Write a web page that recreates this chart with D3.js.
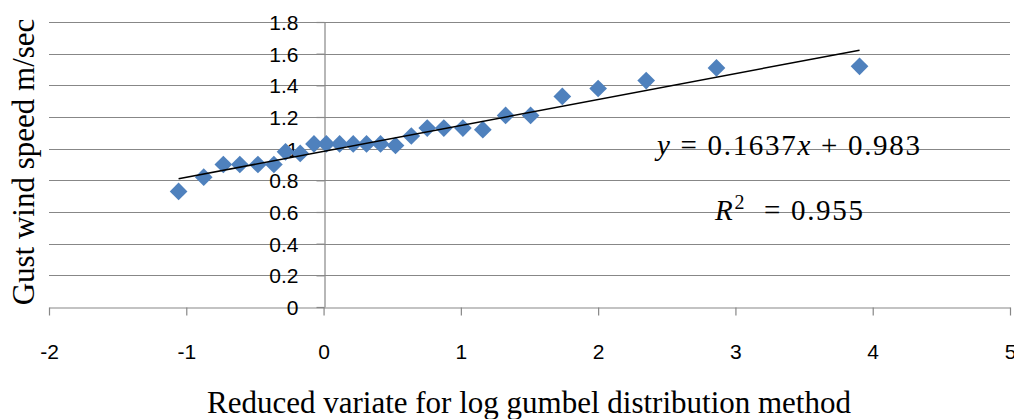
<!DOCTYPE html>
<html>
<head>
<meta charset="utf-8">
<script src="https://cdn.jsdelivr.net/npm/d3@7"></script>
<style>
  body { margin: 0; background: #fff; }
  .axis-title { font-family: "Liberation Serif", "Times New Roman", serif; font-size: 31px; fill: #000; }
  .eq { font-family: "Liberation Serif", "Times New Roman", serif; font-size: 29px; fill: #000; white-space: pre; }
</style>
</head>
<body>
<div id="chart"></div>
<script>
/** data */
let reducedVariate = [-1.056, -0.873, -0.73, -0.61, -0.478, -0.362, -0.277, -0.17,
  -0.07, 0.02, 0.117, 0.216, 0.313, 0.415, 0.524, 0.639, 0.755, 0.876, 1.015,
  1.16, 1.326, 1.508, 1.739, 2.0, 2.35, 2.862, 3.904];
let gustSpeed = [0.73, 0.82, 0.9, 0.9, 0.9, 0.9, 0.98, 0.97,
  1.03, 1.03, 1.03, 1.03, 1.03, 1.03, 1.02, 1.08, 1.13, 1.13, 1.13,
  1.12, 1.21, 1.21, 1.33, 1.38, 1.43, 1.51, 1.52];
let xTicks = [-2, -1, 0, 1, 2, 3, 4, 5];
let yTicks = [0, 0.2, 0.4, 0.6, 0.8, 1, 1.2, 1.4, 1.6, 1.8];
let slope = 0.1637;
let intercept = 0.983;
let rSquared = 0.955;

/** set up the svg */
let width = 1014;
let height = 419;
let svg = d3.select('#chart')
  .append('svg')
  .attr('width', width)
  .attr('height', height);

let x = d3.scaleLinear().domain([-2, 5]).range([49, 1010]);
let y = d3.scaleLinear().domain([0, 1.8]).range([307, 22]);
let gridColor = '#878787';
let tickFont = '"Liberation Sans", Arial, sans-serif';

/** horizontal gridlines */
svg.append('g')
  .selectAll('line')
  .data(yTicks.filter(d => d > 0))
  .enter()
  .append('line')
  .attr('x1', x(-2))
  .attr('x2', x(5))
  .attr('y1', d => Math.round(y(d)) + 0.5)
  .attr('y2', d => Math.round(y(d)) + 0.5)
  .attr('stroke', gridColor)
  .attr('stroke-width', 1.2);

/** x axis at y = 0, ticks pointing down (plain hyphen for negatives, like Excel) */
let xAxis = svg.append('g')
  .attr('transform', `translate(0,${Math.round(y(0)) + 0.5})`)
  .call(d3.axisBottom(x).tickValues(xTicks).tickSize(8).tickSizeOuter(0).tickFormat(d => String(d)));
xAxis.select('.domain').attr('stroke', gridColor).attr('stroke-width', 1.2);
xAxis.selectAll('.tick line').attr('stroke', gridColor).attr('stroke-width', 1.2);
xAxis.selectAll('.tick text')
  .attr('y', 0)
  .attr('dy', null)
  .attr('transform', 'translate(0,51)')
  .style('font-family', tickFont)
  .style('font-size', '21px')
  .style('fill', '#000');

/** y axis at x = 0, labels to the left */
let yAxis = svg.append('g')
  .attr('transform', `translate(${Math.round(x(0)) + 0.5},0)`)
  .call(d3.axisLeft(y).tickValues(yTicks).tickSize(8).tickSizeOuter(0).tickPadding(18).tickFormat(d => String(+d.toFixed(1))));
yAxis.select('.domain').attr('stroke', gridColor).attr('stroke-width', 1.2);
yAxis.selectAll('.tick line').attr('stroke', gridColor).attr('stroke-width', 1.2);
yAxis.selectAll('.tick text')
  .attr('dy', '0.35em')
  .style('font-family', tickFont)
  .style('font-size', '21px')
  .style('fill', '#000');

/** diamond markers */
let diamond = d3.symbol().type(d3.symbolDiamond2).size(200);
svg.append('g')
  .selectAll('path')
  .data(reducedVariate.map((v, i) => [v, gustSpeed[i]]))
  .enter()
  .append('path')
  .attr('d', diamond)
  .attr('transform', d => `translate(${x(d[0])},${y(d[1])})`)
  .attr('fill', '#4F81BD');

/** linear trendline over the data range */
let xExtent = d3.extent(reducedVariate);
svg.append('path')
  .datum(xExtent.map(v => [v, slope * v + intercept]))
  .attr('d', d3.line().x(d => x(d[0])).y(d => y(d[1])))
  .attr('stroke', '#000')
  .attr('stroke-width', 1.5)
  .attr('fill', 'none');

/** equation and R squared */
let eq = svg.append('text')
  .attr('class', 'eq')
  .attr('x', 657)
  .attr('y', 155)
  .attr('textLength', 263)
  .attr('lengthAdjust', 'spacing');
eq.append('tspan').style('font-style', 'italic').text('y');
eq.append('tspan').text(` = ${slope}`);
eq.append('tspan').style('font-style', 'italic').text('x');
eq.append('tspan').text(` + ${intercept}`);

let r2 = svg.append('text')
  .attr('class', 'eq')
  .attr('x', 715)
  .attr('y', 220)
  .attr('textLength', 148)
  .attr('lengthAdjust', 'spacing');
r2.append('tspan').style('font-style', 'italic').text('R');
r2.append('tspan').attr('dy', -11).style('font-size', '20px').text('2');
r2.append('tspan').attr('dy', 11).text(`  = ${rSquared}`);

/** axis titles */
svg.append('text')
  .attr('class', 'axis-title')
  .attr('x', 529)
  .attr('y', 413)
  .attr('text-anchor', 'middle')
  .text('Reduced variate for log gumbel distribution method');

svg.append('text')
  .attr('class', 'axis-title')
  .attr('transform', 'translate(34,162) rotate(-90)')
  .attr('text-anchor', 'middle')
  .text('Gust wind speed m/sec');
</script>
</body>
</html>
